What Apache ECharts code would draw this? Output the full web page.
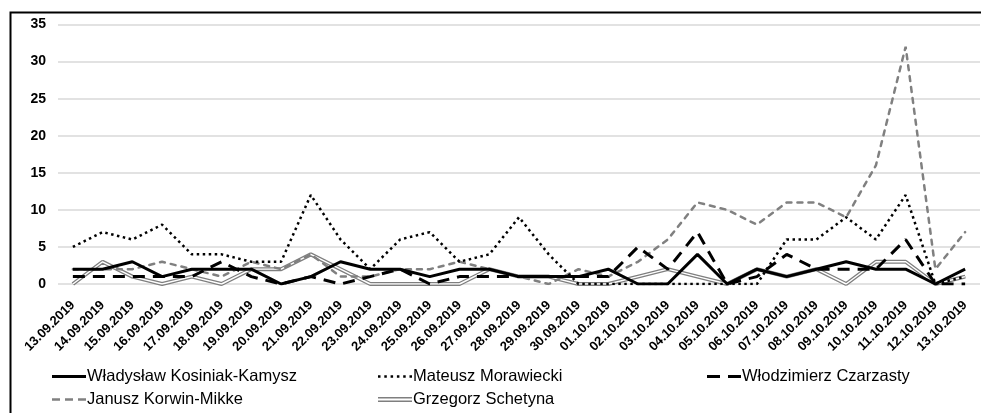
<!DOCTYPE html>
<html>
<head>
<meta charset="utf-8">
<script src="https://cdn.jsdelivr.net/npm/echarts@6/dist/echarts.min.js"></script>
<style>
html,body{margin:0;padding:0;background:#fff;}
#chart{width:981px;height:413px;}
</style>
</head>
<body>
<div id="chart"></div>
<script>
var categories = ['13.09.2019','14.09.2019','15.09.2019','16.09.2019','17.09.2019','18.09.2019','19.09.2019','20.09.2019','21.09.2019','22.09.2019','23.09.2019','24.09.2019','25.09.2019','26.09.2019','27.09.2019','28.09.2019','29.09.2019','30.09.2019','01.10.2019','02.10.2019','03.10.2019','04.10.2019','05.10.2019','06.10.2019','07.10.2019','08.10.2019','09.10.2019','10.10.2019','11.10.2019','12.10.2019','13.10.2019'];
var kosiniak   = [2,2,3,1,2,2,2,0,1,3,2,2,1,2,2,1,1,1,2,0,0,4,0,2,1,2,3,2,2,0,2];
var morawiecki = [5,7,6,8,4,4,3,3,12,6,2,6,7,3,4,9,4,0,0,0,0,0,0,0,6,6,9,6,12,0,1];
var czarzasty  = [1,1,1,1,1,3,1,0,1,0,1,2,0,1,1,1,1,1,1,5,2,7,0,1,4,2,2,2,6,0,0];
var korwin     = [2,2,2,3,2,1,3,2,4,1,1,2,2,3,2,1,0,2,1,3,6,11,10,8,11,11,9,16,32,2,7];
var schetyna   = [0,3,1,0,1,0,2,2,4,2,0,0,0,0,2,1,1,0,0,1,2,1,0,2,1,2,0,3,3,0,1];
var yTicks = {min: 0, max: 35, step: 5};

var names = ['Władysław Kosiniak-Kamysz','Mateusz Morawiecki','Włodzimierz Czarzasty','Janusz Korwin-Mikke','Grzegorz Schetyna'];
var FONT = "'Liberation Sans', Arial, sans-serif";

var icons = [
  {h: 3,   path: 'path://M0,0H34V3H0Z'},
  {h: 2.5, path: 'path://M0,0h2.5v2.5h-2.5Z M6.3,0h2.5v2.5h-2.5Z M12.6,0h2.5v2.5h-2.5Z M18.9,0h2.5v2.5h-2.5Z M25.2,0h2.5v2.5h-2.5Z M31.5,0h2.5v2.5h-2.5Z'},
  {h: 3,   path: 'path://M0,0H13V3H0Z M21,0H34V3H21Z'},
  {h: 2.5, path: 'path://M0,0H8V2.5H0Z M13,0H21V2.5H13Z M26,0H34V2.5H26Z'},
  {h: 5,   path: 'path://M0,0H34V1.4H0Z M0,3.6H34V5H0Z'}
];

function legendAt(i, left, top) {
  return {
    data: [{name: names[i], icon: icons[i].path}],
    left: left, top: top, padding: 0, itemGap: 0,
    itemWidth: 34, itemHeight: icons[i].h, selectedMode: false,
    textStyle: {fontFamily: FONT, fontSize: 16.5, color: '#000', padding: [0,0,0,-4]}
  };
}

var chart = echarts.init(document.getElementById('chart'), null, {renderer: 'canvas'});
chart.setOption({
  backgroundColor: '#fff',
  animation: false,
  graphic: [{
    type: 'rect', left: 8, top: 10, silent: true, z: -1,
    shape: {x: 0, y: 0, width: 1000, height: 500},
    style: {fill: 'none', stroke: '#000', lineWidth: 2}
  }],
  grid: {left: 58, right: 1, top: 24.5, bottom: 129, containLabel: false},
  legend: [
    legendAt(0, 52, 368),
    legendAt(1, 378, 368),
    legendAt(2, 707, 368),
    legendAt(3, 52, 391),
    legendAt(4, 378, 391)
  ],
  xAxis: {
    type: 'category', data: categories, boundaryGap: true,
    axisLine: {show: false}, axisTick: {show: false},
    axisLabel: {rotate: 45, margin: 19, interval: 0, fontFamily: FONT, fontSize: 13, fontWeight: 'bold', color: '#000'}
  },
  yAxis: {
    type: 'value', min: yTicks.min, max: yTicks.max, interval: yTicks.step,
    axisLine: {show: false}, axisTick: {show: false},
    splitLine: {lineStyle: {color: '#d9d9d9', width: 1.5}},
    axisLabel: {margin: 12, fontFamily: FONT, fontSize: 14, fontWeight: 'bold', color: '#000'}
  },
  series: [
    {name: names[4], type: 'line', data: schetyna, symbol: 'none', z: 2,
     lineStyle: {color: '#7f7f7f', width: 4}, itemStyle: {color: '#7f7f7f'}},
    {name: names[4] + ' ', type: 'line', data: schetyna, symbol: 'none', z: 3,
     lineStyle: {color: '#ffffff', width: 1.4}, itemStyle: {color: '#ffffff'}},
    {name: names[3], type: 'line', data: korwin, symbol: 'none', z: 4,
     lineStyle: {color: '#808080', width: 2.5, type: [5,6], cap: 'round'}, itemStyle: {color: '#808080'}},
    {name: names[2], type: 'line', data: czarzasty, symbol: 'none', z: 5,
     lineStyle: {color: '#000', width: 3, type: [12,8]}, itemStyle: {color: '#000'}},
    {name: names[1], type: 'line', data: morawiecki, symbol: 'none', z: 6,
     lineStyle: {color: '#000', width: 2.5, type: [2.5,3.5]}, itemStyle: {color: '#000'}},
    {name: names[0], type: 'line', data: kosiniak, symbol: 'none', z: 7,
     lineStyle: {color: '#000', width: 3}, itemStyle: {color: '#000'}}
  ]
});
</script>
</body>
</html>
